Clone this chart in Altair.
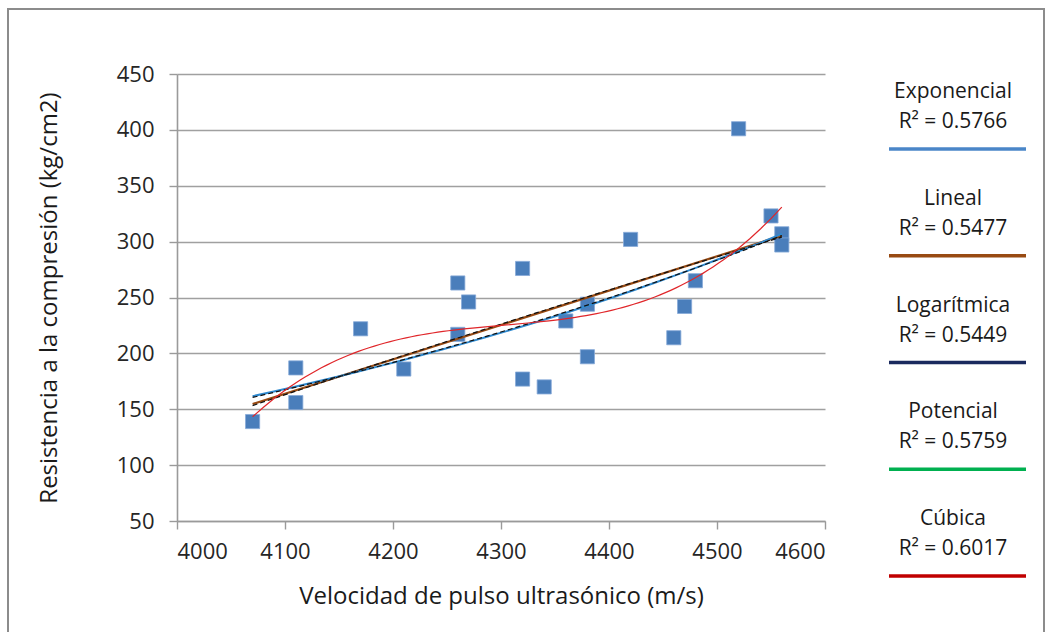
import altair as alt
import pandas as pd

# Data
velocidad = [4070, 4110, 4110, 4170, 4210, 4260, 4260, 4270, 4320, 4320, 4340,
             4360, 4380, 4380, 4420, 4460, 4470, 4480, 4520, 4550, 4560, 4560]
resistencia = [139, 187, 156, 222, 186, 263, 217, 246, 276, 177, 170,
               229, 244, 197, 302, 214, 242, 265, 401, 323, 307, 297]

legend_names = ["Exponencial", "Lineal", "Logarítmica", "Potencial", "Cúbica"]
legend_r2 = ["R² = 0.5766", "R² = 0.5477", "R² = 0.5449", "R² = 0.5759", "R² = 0.6017"]
legend_colors = ["#4A86C8", "#984A12", "#1A2A5E", "#00B050", "#C00000"]

x_ticks = [4000, 4100, 4200, 4300, 4400, 4500, 4600]
y_ticks = [50, 100, 150, 200, 250, 300, 350, 400, 450]

FONT = "Open Sans"

df = pd.DataFrame({"v": velocidad, "r": resistencia})
leg = pd.DataFrame({"name": legend_names, "r2": legend_r2})

xscale = alt.Scale(domain=[4000, 4600], nice=False, zero=False)
yscale = alt.Scale(domain=[50, 450], nice=False, zero=False)

xaxis = alt.Axis(values=x_ticks, format="d", grid=False, title="Velocidad de pulso ultrasónico (m/s)",
                 labelPadding=12, titlePadding=22)
yaxis = alt.Axis(values=y_ticks, format="d", grid=True, title="Resistencia a la compresión (kg/cm2)",
                 labelPadding=15, titlePadding=55)

base = alt.Chart(df)

points = base.mark_square(size=200, color="#4A7EBB", opacity=1, stroke="#86AAD8", strokeWidth=0.8).encode(
    x=alt.X("v:Q", scale=xscale, axis=xaxis),
    y=alt.Y("r:Q", scale=yscale, axis=yaxis),
)


def reg(method, color, width, dash=None, order=None):
    kw = {"method": method}
    if order is not None:
        kw["order"] = order
    mk = {"color": color, "strokeWidth": width}
    if dash is not None:
        mk["strokeDash"] = dash
    return base.transform_regression("v", "r", **kw).mark_line(**mk).encode(
        x=alt.X("v:Q", scale=xscale), y=alt.Y("r:Q", scale=yscale)
    )


lin = reg("linear", "#984A12", 2.2)
# exponential trend as Excel does it: least squares on ln(y)
expo = base.transform_calculate(lr="log(datum.r)").transform_regression(
    "v", "lr", method="poly", order=1
).transform_calculate(r="exp(datum.lr)").mark_line(color="#2F8AD0", strokeWidth=2.0).encode(
    x=alt.X("v:Q", scale=xscale), y=alt.Y("r:Q", scale=yscale)
)
logl = reg("log", "#111111", 1.2, dash=[5, 3])
powl = reg("pow", "#111111", 1.2, dash=[5, 3])
cub = reg("poly", "#E0262A", 1.2, order=3)

frame = alt.Chart(pd.DataFrame({"a": [0]})).mark_rect(
    fill="transparent", stroke="#8C8C8C", strokeWidth=2
).encode(x=alt.value(-169), x2=alt.value(867), y=alt.value(-65), y2=alt.value(580))

main = alt.layer(frame, points, lin, expo, logl, powl, cub)

ly = alt.Y("name:N", sort=legend_names, scale=alt.Scale(type="point", range=[18, 445], padding=0), axis=None)
leg_base = alt.Chart(leg)
names_t = leg_base.mark_text(font=FONT, fontSize=21, color="#1A1A1A", baseline="middle", align="center").encode(
    y=ly, x=alt.value(776), text="name:N")
r2_t = leg_base.mark_text(font=FONT, fontSize=21, color="#1A1A1A", baseline="middle", align="center",
                          yOffset=30).encode(y=ly, x=alt.value(776), text="r2:N")
rules = leg_base.mark_rule(strokeWidth=3.5, yOffset=57).encode(
    y=ly, x=alt.value(712), x2=alt.value(849),
    color=alt.Color("name:N", scale=alt.Scale(domain=legend_names, range=legend_colors), legend=None))

legend_layer = alt.layer(names_t, r2_t, rules)

chart = alt.layer(main, legend_layer).resolve_scale(y="independent", color="independent").properties(
    width=648, height=447,
    autosize=alt.AutoSizeParams(type="none"),
    padding={"left": 177, "top": 74, "right": 224, "bottom": 111},
    background="white",
).configure_view(strokeWidth=0).configure_axis(
    labelFont=FONT, titleFont=FONT, labelFontSize=22, titleFontSize=24,
    labelColor="#262626", titleColor="#1A1A1A", titleFontWeight="normal",
    domainColor="#9A9A9A", domainWidth=1.6, tickColor="#9A9A9A", tickWidth=1.4, tickSize=8,
    gridColor="#A0A0A0", gridWidth=1.6,
)

chart.save("out.html", embed_options={"renderer": "svg", "actions": False})
